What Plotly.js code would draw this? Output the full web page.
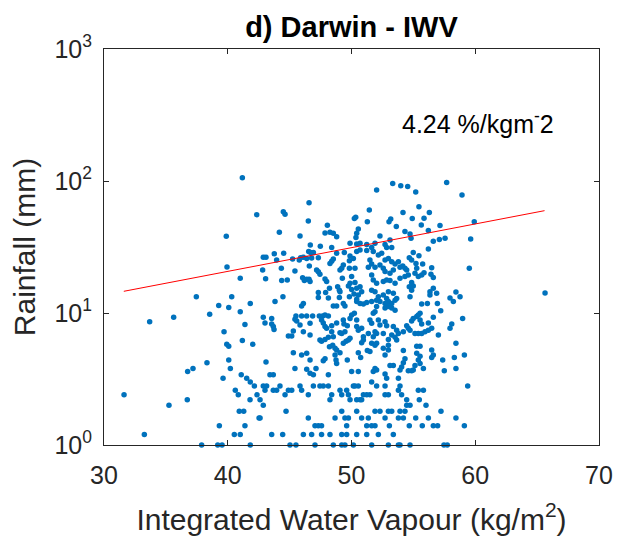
<!DOCTYPE html>
<html>
<head>
<meta charset="utf-8">
<script src="https://cdn.plot.ly/plotly-3.0.1.min.js"></script>
<style>html,body{margin:0;padding:0;background:#fff;}#chart{width:625px;height:542px;}</style>
</head>
<body>
<div id="chart"></div>
<script>
// Integrated water vapour (kg/m^2) and rainfall (mm), grouped by region
const iwvA = [41.18,42.34,39.88,39.94,41.01,37.46,40.32,39.27,40.08,41.82,38.54,41.01,33.69,35.63,41.39,39.70,41.18,39.92,40.08,42.02,38.32,40.08,36.76,37.19,40.21,39.62,41.09,41.53,41.82,42.15,31.62,40.61,40.85,42.36,36.73,41.80,35.25,40.93,41.29,42.53,39.32,41.39,33.26,40.53,41.01,37.89,39.19,39.54,41.82];
const rainA = [106,55.6,38.1,22.3,18.3,13.3,13.3,11.4,11.0,11.8,9.8,10.2,8.6,9.3,8.2,7.2,6.2,5.8,5.6,5.8,4.2,4.4,3.6,3.8,3.8,3.2,3.4,3.2,3.0,2.8,2.4,2.6,2.4,2.4,2.2,2.2,2.0,1.8,1.8,1.6,1.4,1.4,1.2,1.2,1.2,1,1,1,1];

const iwvB = [46.57,44.49,44.63,51.44,46.51,50.34,50.23,51.28,48.05,44.17,45.84,47.86,48.26,48.53,48.80,50.55,50.42,50.36,46.67,47.48,48.40,49.88,50.42,50.69,51.23,43.76,44.52,42.87,43.09,45.24,45.89,46.11,46.54,46.70,46.92,46.38,46.78,47.32,48.80,49.42,49.88,50.15,50.42,50.69,51.23,43.95,45.78,48.53,48.40,48.26,49.83,49.34,49.21,51.36,42.82,44.33,45.43,46.59,47.18,47.32,47.45,49.07,49.83,50.28,43.06,44.36,44.81,46.05,46.19,46.38,46.57,46.65,47.86,47.99,49.26,50.01,50.28,49.88,49.75,50.01,50.42,48.88,49.02,49.07,47.32,48.22,47.91,50.69,50.82,50.55,44.46,47.32,48.13,49.02,49.83,50.20,50.42];
const rainB = [68.5,58.5,56,60.3,49.8,53.2,51.9,49.2,46.2,40.9,38.3,40.4,40.9,40.2,37.8,43.2,40.2,37.4,32.7,32.0,31.4,33.8,33.3,33.7,33.1,28.1,28.3,26.4,26.4,25.7,26.2,26.4,29.2,28.7,28.7,25.9,26.1,26.2,28.3,28.7,27.0,25.9,29.2,30.0,29.7,25.2,25.2,25.7,24.7,23.7,24.9,23.1,21.8,22.2,21.2,21.8,20.8,22.7,21.2,20.5,19.7,21.2,21.8,21.8,18.2,17.6,17.8,18.5,17.6,18.0,18.0,17.3,18.1,17.3,18.3,18.9,17.0,16.8,16.0,15.1,15.4,15.8,14.9,14.5,14.3,15.4,14.3,15.8,14.5,13.7,13.3,13.1,13.0,13.1,13.3,13.9,12.7];

const iwvC = [43.82,46.11,45.97,48.53,48.80,49.34,49.47,50.42,50.69,50.96,51.23,
42.87,43.01,43.55,43.55,43.68,43.74,
45.43,45.57,45.51,45.97,46.38,46.86,47.40,47.67,47.86,48.13,
45.84,46.11,46.65,46.65,44.90,45.17,45.30,
47.58,47.72,47.86,47.99,48.40,48.53,48.40,48.80,49.07,49.21,49.47,49.34,49.39,49.66,49.88,50.01,50.23,50.42,50.42,50.55,50.82,50.96,51.36,
47.45,47.58,47.86,48.13,48.22,48.48,48.67,48.80,49.07,49.34,49.56,49.75,49.88,
48.67,48.75,48.80,49.66,
50.55,50.82,50.96,51.28,50.74,
45.30,45.97,46.38,46.65,47.72,47.86,
43.09,45.43,46.38,46.65,46.92,47.13,48.13,50.01,50.55,43.41,43.68,
42.87,43.01,43.14,43.68,43.95,44.22,44.63,44.90,45.17,45.84,45.97,47.45,47.72,48.13,46.51,46.92,48.40,48.26,49.07,49.21,49.61,49.75,49.88,50.15,50.28,50.55,50.42,50.69,50.82,50.96,51.23,
42.61,42.87,44.71,49.21,50.42,
42.61,46.51,48.67,49.47,49.75,50.82,51.36,
47.05,47.32,47.58,49.61,51.23,
43.55,44.44,46.11,46.78,47.58,48.26,49.21,49.61,50.42,51.23,
45.03,45.51,47.05,48.53,49.21,49.47,50.15];
const rainC = [12.2,11.8,11.3,11.3,11.3,11.8,11.3,12.2,11.8,11.7,12.0,
9.3,8.4,9.1,8.25,7.9,7.5,
8.95,8.7,9.5,9.5,9.5,9.5,9.5,9.5,9.65,9.5,
8.1,7.2,8.35,6.8,6.7,6.7,7.3,
8.85,8.4,7.9,7.65,7.2,6.6,8.0,8.4,7.1,7.0,7.2,8.85,8.25,8.0,9.1,9.65,9.95,8.85,7.9,7.4,7.65,6.6,7.0,
6.25,6.1,6.3,6.55,5.55,5.7,5.4,5.25,5.0,5.9,6.1,6.25,6.45,
4.8,4.4,4.15,4.4,
5.0,5.95,6.25,5.2,4.6,
5.0,4.8,4.95,4.4,4.35,4.5,
4.25,3.8,3.75,3.5,3.4,3.8,3.4,3.6,3.6,3.4,3.4,
2.8,2.6,2.8,2.6,2.6,2.8,2.4,2.6,2.6,2.8,2.6,2.8,2.8,2.8,2.4,2.8,2.4,2.2,2.6,2.4,2.6,2.4,2.2,2.8,2.8,2.8,2.2,2.2,2.2,2.4,2.4,
2.2,2.0,1.8,1.8,1.8,
1.6,1.6,1.6,1.6,1.6,1.6,1.6,
1.4,1.4,1.4,1.4,1.4,
1.2,1.2,1.2,1.2,1.2,1.2,1.2,1.2,1.2,1.2,
1,1,1,1,1,1,1];

const iwvD = [53.33,53.98,54.54,55.19,57.69,52.03,58.93,
55.45,56.29,54.16,54.91,55.86,53.17,53.03,53.62,
55.64,57.15,54.32,54.73,54.81,56.21,59.92,
52.30,56.61,57.10,57.56,59.63,
51.90,51.63,52.71,52.84,53.25,53.11,
56.21,54.99,55.45,54.67,51.76,52.17,52.44,
52.71,52.98,53.25,53.52,53.79,53.92,54.14,54.32,54.46,
51.49,51.63,51.90,52.30,52.57,52.71,53.11,53.38,
54.86,55.21,55.27,55.13,55.75,55.40,55.67,55.86,56.48,56.61,56.42,59.52,
51.63,51.76,52.03,52.57,52.84,53.11,53.52,53.92,54.32,54.59,
54.86,54.67,54.86,54.99,56.61,56.34,56.88,56.34,57.96,58.44,58.77,
51.63,51.90,52.17,52.57,52.84,52.98,53.38,53.65,54.73];
const rainD = [95.8,92,91,82.6,97.5,85.5,78.3,
63.8,57.8,57.8,51.9,52.3,51.5,49.2,45.3,
46.4,46.1,41.5,39.7,36.8,42.2,49.2,
38.3,34.9,36.1,36.8,36.3,
33.7,31.4,33.1,31.4,31.4,35.7,
30.5,28.7,27.2,26.2,29.2,27.5,28.3,
25.2,25.9,24.5,23.5,24.5,22.2,22.7,21.8,21.2,
25.2,23.5,22.2,23.1,21.8,20.6,20.0,21.2,
25.2,23.7,21.8,20.0,23.5,18.9,19.4,20.2,22.0,18.6,19.7,21.8,
19.4,17.8,16.8,17.3,17.8,17.6,16.8,18.3,18.9,19.4,
17.0,15.8,14.9,16.0,15.4,14.5,14.1,13.7,13.0,14.4,13.3,
14.9,14.5,13.3,13.7,12.9,14.5,14.1,12.9,13.3];

const iwvE = [51.63,52.03,52.30,52.71,52.98,53.25,53.52,53.25,53.52,52.98,52.71,52.03,51.76,51.90,
55.67,56.13,56.94,57.21,58.23,
51.49,51.63,52.17,52.30,52.71,52.84,53.38,53.65,53.79,53.52,53.25,53.65,
51.90,52.03,51.76,52.57,52.98,
54.46,54.59,54.73,54.86,54.99,55.27,55.40,55.54,55.67,55.54,
54.19,55.13,55.40,55.67,55.94,56.21,56.48,56.21,56.61,
58.10,57.96,58.98,57.02,
51.63,51.90,51.49,52.03,52.57,52.98,52.98,52.71,
54.19,55.27,55.54,55.27,55.54,55.40,55.54,55.13,54.99,54.59,54.86,
56.48,56.61,56.48,57.37,58.44,59.12,58.31,
54.32,54.19,54.05,53.92,53.11,53.38,55.81,57.50,58.44,
51.90,52.03,51.76,52.71,52.84,53.79,51.63,
52.03,52.71,53.92,53.79,55.40,55.81,59.39,
52.71,52.98,54.05,51.49,54.46,55.48,56.02,54.46,54.73,
51.90,52.30,52.98,53.25,53.92,54.32,57.23,
52.71,53.79,54.19,55.19,56.21,58.44,
51.63,51.90,53.06,54.67,55.72,56.61,56.96,59.12,
52.17,53.38,
51.63,52.98,53.79,53.92,54.73,57.47,57.74,
65.64];
const rainE = [12.2,12.5,12.2,11.8,12.2,11.8,12.5,10.9,10.5,11.2,10.9,11.2,9.95,10.2,
11.7,11.8,11.8,10.4,12.2,
8.85,8.35,8.85,8.1,8.6,8.0,7.9,7.4,7.0,6.55,6.8,6.25,
7.2,7.0,6.6,7.0,6.3,
8.0,7.65,7.4,8.7,9.1,9.4,9.65,8.85,8.25,9.95,
7.2,7.0,7.0,7.0,7.2,7.4,7.65,8.4,9.3,
8.25,7.65,9.1,6.8,
5.9,5.7,5.1,5.9,5.4,5.7,5.25,4.8,
5.2,5.6,5.6,4.95,4.7,4.4,4.15,4.0,3.7,3.65,3.65,
5.25,4.8,4.6,4.4,5.9,4.8,4.6,
4.5,4.2,3.9,3.7,4.0,4.0,3.8,3.65,3.8,
3.8,3.7,3.6,3.45,3.2,3.2,3.0,
2.8,2.8,2.8,2.6,2.6,2.6,2.8,
2.4,2.4,2.4,2.4,2.2,2.2,2.0,2.0,2.0,
1.8,1.8,1.8,1.8,1.8,1.8,1.8,
1.6,1.6,1.6,1.6,1.6,1.6,
1.4,1.4,1.4,1.4,1.4,1.4,1.4,1.4,
1.2,1.2,
1,1,1,1,1,1,1,
14.2];

// Fitted trend line end points
const trendIwv = [31.6, 65.6];
const trendRain = [14.6, 59.6];

const xTicks = [30, 40, 50, 60, 70];
const yTicks = [1, 10, 100, 1000];
const yTickText = ['10<sup>0</sup>', '10<sup>1</sup>', '10<sup>2</sup>', '10<sup>3</sup>'];
const slopeLabel = '4.24 %/kgm<sup>-</sup>2';

const iwv = [].concat(iwvA, iwvB, iwvC, iwvD, iwvE);
const rain = [].concat(rainA, rainB, rainC, rainD, rainE);

const FONT = '"Liberation Sans", Arial, Helvetica, sans-serif';
const AX = '#262626';

const traces = [
  {x: iwv, y: rain, type: 'scatter', mode: 'markers', cliponaxis: false,
   marker: {color: '#0072BD', size: 5.5, line: {width: 0}}, hoverinfo: 'x+y'},
  {x: trendIwv, y: trendRain, type: 'scatter', mode: 'lines',
   line: {color: '#FF0000', width: 1}}
];

const axisCommon = {
  showline: true, linecolor: AX, linewidth: 1, mirror: 'ticks',
  ticks: 'inside', ticklen: 5, tickwidth: 1, tickcolor: AX,
  showgrid: false, zeroline: false,
  tickfont: {family: FONT, size: 25, color: AX}
};

const layout = {
  width: 625, height: 542,
  margin: {l: 104, r: 26, t: 49, b: 97, pad: 0},
  paper_bgcolor: '#ffffff', plot_bgcolor: '#ffffff',
  showlegend: false,
  font: {family: FONT, color: AX},
  title: {text: '<b>d) Darwin - IWV</b>', font: {family: FONT, size: 29, color: '#000'},
          xref: 'paper', x: 0.5, xanchor: 'center', yref: 'container', y: 1 - 27/542, yanchor: 'middle'},
  xaxis: Object.assign({}, axisCommon, {
    range: [30, 70], tickmode: 'array', tickvals: xTicks,
    ticklabelstandoff: 8,
    title: {text: 'Integrated Water Vapour (kg/m<sup>2</sup>)', font: {family: FONT, size: 30, color: AX}, standoff: 20}
  }),
  yaxis: Object.assign({}, axisCommon, {
    type: 'log', range: [0, 3], tickmode: 'array', tickvals: yTicks, ticktext: yTickText,
    ticklabelstandoff: 6,
    title: {text: 'Rainfall (mm)', font: {family: FONT, size: 30, color: AX}, standoff: 9}
  }),
  annotations: [
    {text: slopeLabel, xref: 'x', yref: 'y', x: 53.9, y: Math.log10(280),
     xanchor: 'left', yanchor: 'middle', showarrow: false,
     font: {family: FONT, size: 25, color: '#000'}}
  ]
};

Plotly.newPlot('chart', traces, layout, {displayModeBar: false, staticPlot: true});
</script>
</body>
</html>
